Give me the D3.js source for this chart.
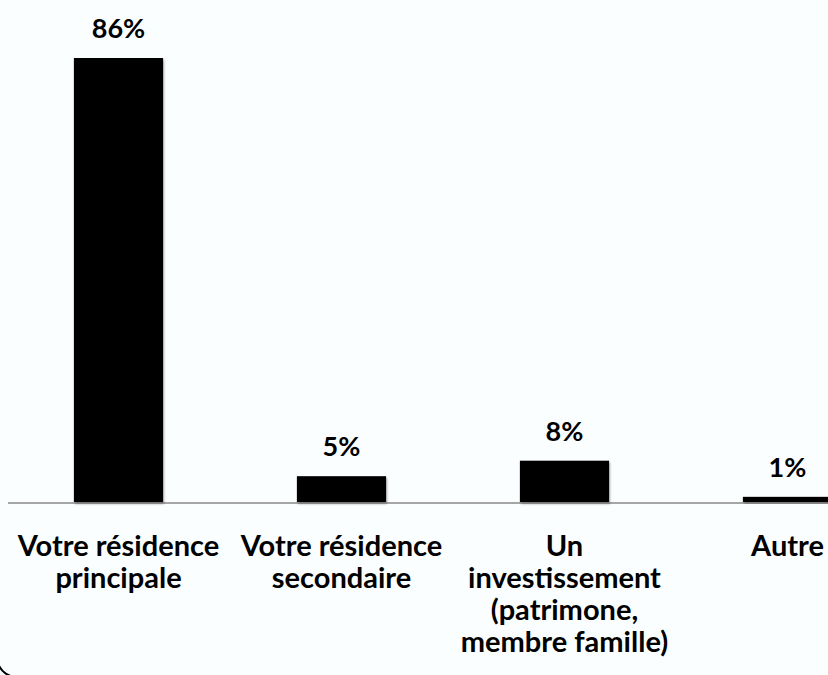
<!DOCTYPE html>
<meta charset="utf-8">
<style>
body {
  margin: 0;
  background: #fbfefe;
}
svg {
  display: block;
}
.bar {
  fill: #000;
}
.lbl {
  font-family: Lato, "Open Sans", sans-serif;
  font-weight: bold;
  fill: #000;
}
</style>
<body>
<svg width="828" height="675"></svg>
<script src="https://cdn.jsdelivr.net/npm/d3@7/dist/d3.min.js"></script>
<script>
var categories = ["Votre résidence principale", "Votre résidence secondaire",
                  "Un investissement (patrimone, membre famille)", "Autre"];
var values = [86, 5, 8, 1];
var tickLines = [
  ["Votre résidence", "principale"],
  ["Votre résidence", "secondaire"],
  ["Un", "investissement", "(patrimone,", "membre famille)"],
  ["Autre"]
];
var valueLabels = ["86%", "5%", "8%", "1%"];

var svg = d3.select("svg");

// drop shadow like the original office chart
var defs = svg.append("defs");
var f = defs.append("filter").attr("id", "shadow")
    .attr("x", "-10%").attr("y", "-10%").attr("width", "130%").attr("height", "130%");
f.append("feDropShadow").attr("dx", 1).attr("dy", 2).attr("stdDeviation", 1.2)
    .attr("flood-color", "#000").attr("flood-opacity", 0.3);

var x = d3.scaleBand()
    .domain(categories)
    .range([7, 899])
    .paddingInner(0.6)
    .paddingOuter(0.3);

var y = d3.scaleLinear()
    .domain([0, 86])
    .range([502, 58]);

// outer frame, only its corner shows
svg.append("rect")
    .attr("x", -3).attr("y", -30)
    .attr("width", 900).attr("height", 707)
    .attr("rx", 20).attr("ry", 20)
    .attr("fill", "none")
    .attr("stroke", "#000")
    .attr("stroke-width", 2);

// baseline
svg.append("line")
    .attr("x1", 8).attr("x2", 828)
    .attr("y1", y(0) + 1).attr("y2", y(0) + 1)
    .attr("stroke", "#a6a6a6")
    .attr("stroke-width", 2);

svg.selectAll(".bar")
  .data(values)
  .enter().append("rect")
    .attr("class", "bar")
    .attr("filter", "url(#shadow)")
    .attr("x", function(d, i) { return x(categories[i]); })
    .attr("y", function(d) { return y(d); })
    .attr("width", x.bandwidth())
    .attr("height", function(d) { return y(0) - y(d); });

svg.selectAll(".val")
  .data(values)
  .enter().append("text")
    .attr("class", "lbl val")
    .attr("x", function(d, i) { return x(categories[i]) + x.bandwidth() / 2; })
    .attr("y", function(d) { return y(d) - 20; })
    .attr("text-anchor", "middle")
    .style("font-size", "27px")
    .text(function(d, i) { return valueLabels[i]; });

var ticks = svg.selectAll(".tick")
  .data(categories)
  .enter().append("text")
    .attr("class", "lbl tick")
    .attr("text-anchor", "middle")
    .attr("x", function(d) { return x(d) + x.bandwidth() / 2; })
    .attr("y", 556)
    .style("font-size", "29px");

ticks.each(function(d, i) {
  var t = d3.select(this);
  tickLines[i].forEach(function(line, j) {
    t.append("tspan")
      .attr("x", x(d) + x.bandwidth() / 2)
      .attr("dy", j === 0 ? 0 : 32)
      .text(line);
  });
});
</script>
</body>
